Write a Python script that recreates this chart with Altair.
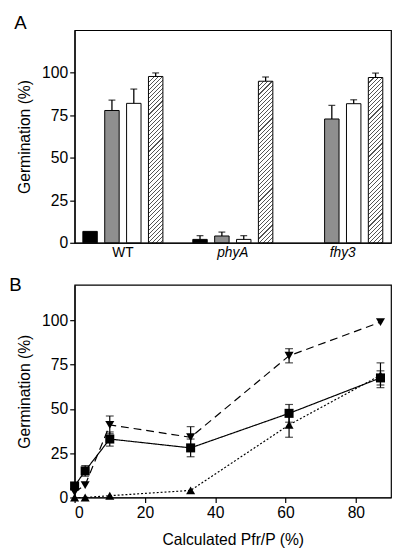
import altair as alt
import pandas as pd

# ---------------- data ----------------
genotypes = ["WT", "phyA", "fhy3"]
treatments = ["t1", "t2", "t3", "t4"]  # black, dotted, white, hatched
wt_vals = [6.7, 77.8, 82.0, 97.8]
wt_errs = [0.0, 6.1, 8.4, 2.1]
phya_vals = [2.0, 4.0, 2.0, 95.0]
phya_errs = [2.2, 2.3, 2.2, 2.5]
fhy3_vals = [None, 72.8, 81.8, 97.2]
fhy3_errs = [None, 8.0, 2.3, 2.6]

pfr = [0, 3, 10, 33, 61, 87]
sq_vals = [6.5, 15.0, 33.0, 28.0, 47.5, 67.5]
sq_errs = [0, 3.0, 4.0, 5.0, 5.0, 4.0]
dn_vals = [3.0, 7.0, 41.0, 34.0, 80.0, 99.0]
dn_errs = [0, 0, 5.0, 6.0, 4.0, 0]
up_vals = [0.0, 0.0, 1.0, 4.0, 41.0, 69.0]
up_errs = [0, 0, 0, 0, 7.0, 7.0]

FONT = "Liberation Sans"
W_PLOT = 323
H_PLOT = 217
YMAX_A = 125

# ---------------- panel A table ----------------
rows = []
for g, vals, errs in [("WT", wt_vals, wt_errs), ("phyA", phya_vals, phya_errs), ("fhy3", fhy3_vals, fhy3_errs)]:
    for t, v, e in zip(treatments, vals, errs):
        if v is None:
            continue
        rows.append({"genotype": g, "treatment": t, "value": v, "err": e, "top": v + e})
bars = pd.DataFrame(rows)

PI, PO = 0.272, 0.075
xenc = alt.X("genotype:N", scale=alt.Scale(domain=genotypes, paddingInner=PI, paddingOuter=PO),
             axis=alt.Axis(title=None, labelAngle=0, ticks=False, labelPadding=3, labelFontSize=14,
                           labelFontStyle={"condition": {"test": "datum.value == 'WT'", "value": "normal"},
                                           "value": "italic"}))
xoff = alt.XOffset("treatment:N", scale=alt.Scale(domain=treatments, paddingInner=0.34, paddingOuter=0))
yenc = alt.Y("value:Q", scale=alt.Scale(domain=[0, YMAX_A], nice=False, zero=True),
             axis=alt.Axis(title="Germination (%)", values=[0, 25, 50, 75, 100]))

base = alt.Chart(bars)

plain = base.transform_filter("datum.treatment != 't4'").mark_bar(stroke="black", strokeWidth=1).encode(
    x=xenc, xOffset=xoff, y=yenc,
    fill=alt.Fill("treatment:N", scale=alt.Scale(domain=["t1", "t2", "t3"], range=["black", "#8f8f8f", "white"]),
                  legend=None),
)

# hatched bars via striped linear gradient
sub_step = (W_PLOT / (3 - PI + 2 * PO)) * (1 - PI) / (4 - 0.34)
bar_w = sub_step * (1 - 0.34)


def hatch(value, period=4.2, lw=1.1, ink="#555555", paper="white"):
    Hh = value * H_PLOT / YMAX_A
    Ww = bar_w
    D = Ww * (1 + (Hh / Ww) ** 2)
    stops = [alt.GradientStop(offset=0, color=paper)]
    c = 1.0
    while c < Ww + Hh:
        t0 = c / D
        t1 = min((c + lw) / D, 1.0)
        stops += [alt.GradientStop(offset=t0, color=paper), alt.GradientStop(offset=t0, color=ink),
                  alt.GradientStop(offset=t1, color=ink), alt.GradientStop(offset=t1, color=paper)]
        c += period
    stops.append(alt.GradientStop(offset=1, color=paper))
    return alt.LinearGradient(gradient="linear", stops=stops, x1=0, y1=0, x2=1, y2=Hh / Ww)


hatched_layers = []
for g in genotypes:
    sel = bars[(bars.genotype == g) & (bars.treatment == "t4")]
    if len(sel) == 0:
        continue
    v = float(sel.value.iloc[0])
    hatched_layers.append(
        base.transform_filter(f"datum.genotype == '{g}' && datum.treatment == 't4'")
        .mark_bar(fill=hatch(v), stroke="black", strokeWidth=1)
        .encode(x=xenc, xOffset=xoff, y=yenc)
    )

err_rule = base.transform_filter("datum.err > 0").mark_rule(color="black", strokeWidth=1.3).encode(
    x=xenc, xOffset=xoff, y=yenc, y2="top:Q")
err_cap = base.transform_filter("datum.err > 0").mark_tick(color="black", thickness=1.3, size=7).encode(
    x=xenc, xOffset=xoff, y=alt.Y("top:Q"))

panelA = alt.layer(plain, *hatched_layers, err_rule, err_cap).properties(
    width=W_PLOT, height=H_PLOT,
    title=alt.TitleParams("A", anchor="start", frame="bounds", fontSize=19, fontWeight="normal", font=FONT,
                          offset=-3, dx=-3),
)

# ---------------- panel B table ----------------
series_names = ["sq", "dn", "up"]
lrows = []
for s, vals, errs in [("sq", sq_vals, sq_errs), ("dn", dn_vals, dn_errs), ("up", up_vals, up_errs)]:
    for x, v, e in zip(pfr, vals, errs):
        lrows.append({"series": s, "pfr": x, "value": v, "err": e, "lo": v - e, "hi": v + e})
lines = pd.DataFrame(lrows)

bx = alt.X("pfr:Q", scale=alt.Scale(domain=[0, 90], nice=False),
           axis=alt.Axis(title="Calculated Pfr/P (%)", values=[0, 20, 40, 60, 80], titlePadding=12))
by = alt.Y("value:Q", scale=alt.Scale(domain=[0, 120], nice=False),
           axis=alt.Axis(title="Germination (%)", values=[0, 25, 50, 75, 100]))

lbase = alt.Chart(lines)
line_l = lbase.mark_line(color="black", strokeWidth=1.2).encode(
    x=bx, y=by,
    strokeDash=alt.StrokeDash("series:N", scale=alt.Scale(domain=series_names, range=[[1, 0], [8, 5], [2, 2]]),
                              legend=None),
    detail="series:N",
)
eb = lbase.transform_filter("datum.err > 0")
err_l = eb.mark_rule(color="black", strokeWidth=1.2).encode(x=bx, y=alt.Y("lo:Q"), y2="hi:Q")
cap_lo = eb.mark_tick(color="black", thickness=1.2, size=8, orient="horizontal").encode(x=bx, y=alt.Y("lo:Q"))
cap_hi = eb.mark_tick(color="black", thickness=1.2, size=8, orient="horizontal").encode(x=bx, y=alt.Y("hi:Q"))
pts = lbase.mark_point(filled=True, opacity=1, color="black", size=85).encode(
    x=bx, y=by,
    shape=alt.Shape("series:N", scale=alt.Scale(domain=series_names, range=["square", "triangle-down", "triangle-up"]),
                    legend=None),
)

panelB = alt.layer(line_l, err_l, cap_lo, cap_hi, pts).properties(
    width=W_PLOT, height=H_PLOT,
    title=alt.TitleParams("B", anchor="start", frame="bounds", fontSize=19, fontWeight="normal", font=FONT,
                          offset=-10, dx=-8),
)

chart = alt.vconcat(panelA, panelB, spacing=43, bounds="flush").properties(
    padding={"left": 0, "top": 0, "right": 0, "bottom": 0}
).configure_view(stroke="black", strokeWidth=1.2).configure_axis(
    labelFont=FONT, titleFont=FONT, labelFontSize=16, titleFontSize=16, labelColor="black", titleColor="black",
    titleFontWeight="normal", domainColor="black", domainWidth=1.2, tickColor="black", tickWidth=1.2,
    tickSize=5, labelPadding=2, grid=False, titlePadding=9,
).configure_axisX(labelPadding=2)

chart.save("out.html", embed_options={"renderer": "svg", "actions": False})
